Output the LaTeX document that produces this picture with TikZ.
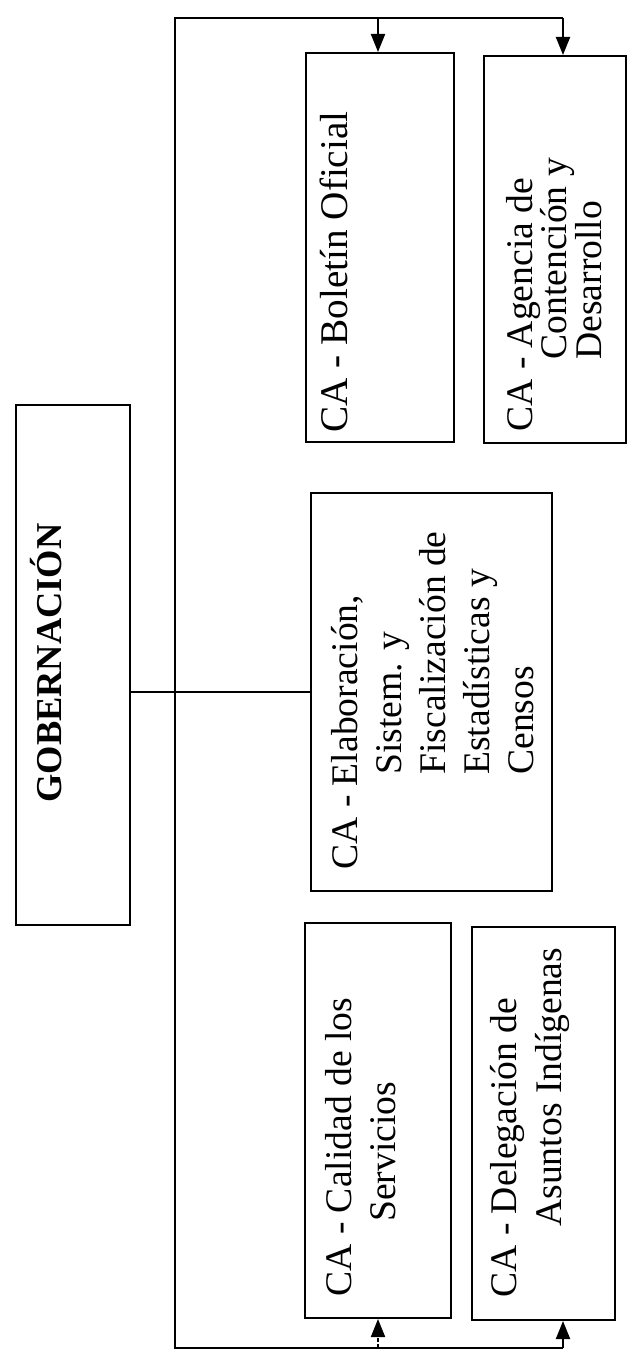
\documentclass[tikz,border=0pt]{standalone}
\usepackage{fontspec}
\setmainfont{Liberation Serif}
\usetikzlibrary{arrows.meta,fit}
\begin{document}
\begin{tikzpicture}[x=0.5pt,y=-0.5pt,
  box/.style={draw, line width=1pt, inner sep=0pt},
  lbl/.style={anchor=base west, rotate=90, inner sep=0pt, font=\fontsize{18.8}{22}\selectfont},
  bus/.style={line width=1pt},
  arr/.style={line width=1pt, -{Triangle[width=7pt,length=9pt]}},
  dasharr/.style={arr, dash pattern=on 2pt off 1.2pt}
]
\useasboundingbox (0,0) rectangle (634,1358);

% boxes
\node[box, fit={(16,405) (130,925)}] (gob) {};
\node[box, fit={(306,53) (454,442)}] (bol) {};
\node[box, fit={(484,56) (626,443)}] (agen) {};
\node[box, fit={(311,493) (552,891)}] (elab) {};
\node[box, fit={(305,923) (451,1318)}] (cal) {};
\node[box, fit={(472,927) (615,1320)}] (del) {};

% texts
\node[lbl, font=\fontsize{18.2}{22}\selectfont\bfseries] (tgob) at (61,803) {GOBERNACIÓN};
\node[lbl, font=\fontsize{19.6}{22}\selectfont] (tbol) at (347,433) {CA - Boletín Oficial};
\node[lbl] (tagen) at (532,432) {\vtop{\baselineskip=17.3pt\hbox{CA - Agencia de}\hbox{\hspace*{36pt}Contención y}\hbox{\hspace*{36pt}Desarrollo}}};
\node[lbl] (telab) at (357,870) {\vtop{\baselineskip=22pt\hbox{CA - Elaboración,}\hbox{\hspace*{47.5pt}Sistem. y}\hbox{\hspace*{47.5pt}Fiscalización de}\hbox{\hspace*{47.5pt}Estadísticas y}\hbox{\hspace*{47.5pt}Censos}}};
\node[lbl] (tcal) at (351,1297) {\vtop{\baselineskip=22pt\hbox{CA - Calidad de los}\hbox{\hspace*{37.5pt}Servicios}}};
\node[lbl] (tdel) at (516,1298) {\vtop{\baselineskip=22.5pt\hbox{CA - Delegación de}\hbox{\hspace*{35.5pt}Asuntos Indígenas}}};

% bus
\coordinate (tl) at (175,18);
\coordinate (ta) at (378,18);
\coordinate (tb) at (563,18);
\coordinate (bl) at (175,1348);
\coordinate (ba) at (378,1348);
\coordinate (bb) at (563,1348);
\draw[bus] (tb) -- (tl) -- (bl) -- (bb);

% arrows
\draw[arr] (ta) -- (ta |- bol.north);
\draw[arr] (tb) -- (tb |- agen.north);
\draw[dasharr] (ba) -- (ba |- cal.south);
\draw[arr] (bb) -- (bb |- del.south);

% connector
\draw[bus] (gob.east |- elab.west) -- (elab.west);
\end{tikzpicture}
\end{document}
